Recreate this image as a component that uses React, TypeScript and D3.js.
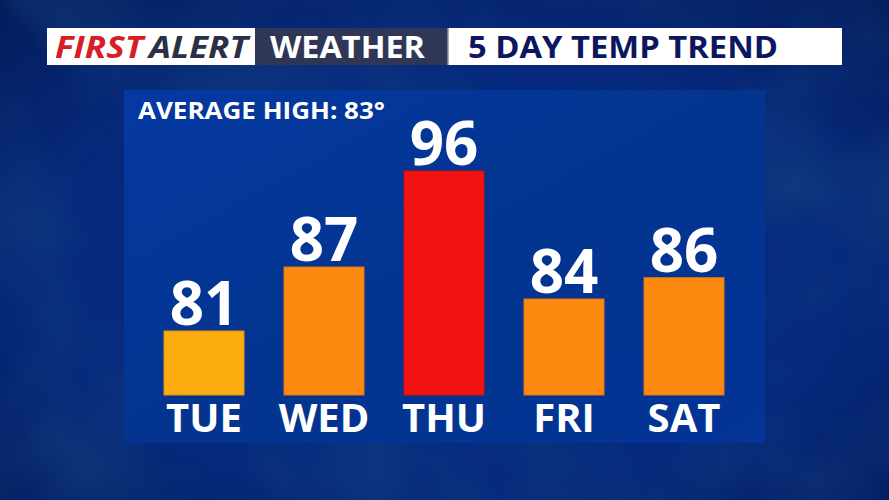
import React from "react";
import * as d3 from "d3";

const days = ["TUE", "WED", "THU", "FRI", "SAT"];
const highs = [81, 87, 96, 84, 86];
const barColors = ["#fdac10", "#fc8a10", "#f41313", "#fc8a10", "#fc8a10"];
const barStrokes = ["#e58f0c", "#e2760c", "#d20f0f", "#e2760c", "#e2760c"];
const averageHigh = 83;
const yDomain = [75, 96];

const W = 889;
const H = 500;

export default function App() {
  const panel = { x: 124, y: 90, w: 641, h: 353 };
  const x = d3
    .scaleBand<string>()
    .domain(days)
    .range([144, 744])
    .paddingInner(1 / 3)
    .paddingOuter(1 / 6);
  const y = d3.scaleLinear().domain(yDomain).range([395, 171]);

  const font = "'Open Sans', 'DejaVu Sans', sans-serif";

  return (
    <svg
      width={W}
      height={H}
      style={{ position: "absolute", left: 0, top: 0, display: "block" }}
    >
      <defs>
        <radialGradient id="bg" cx="50%" cy="55%" r="75%">
          <stop offset="0%" stopColor="#072c86" />
          <stop offset="60%" stopColor="#06297c" />
          <stop offset="100%" stopColor="#041c5a" />
        </radialGradient>
        <linearGradient id="panel" x1="0" y1="0" x2="1" y2="1">
          <stop offset="0%" stopColor="#0539a2" />
          <stop offset="50%" stopColor="#03348f" />
          <stop offset="100%" stopColor="#033496" />
        </linearGradient>
        <filter id="clouds" x="0" y="0" width="100%" height="100%">
          <feTurbulence type="fractalNoise" baseFrequency="0.007" numOctaves={3} seed={7} />
          <feColorMatrix
            type="matrix"
            values="0 0 0 0 0.01  0 0 0 0 0.06  0 0 0 0 0.22  0 0 0 1.2 -0.45"
          />
        </filter>
      </defs>
      <rect x={0} y={0} width={W} height={H} fill="url(#bg)" />
      <rect x={0} y={0} width={W} height={H} filter="url(#clouds)" opacity={0.8} />

      {/* Header */}
      <rect x={47} y={28} width={208} height={37} fill="#ffffff" />
      <rect x={255} y={28} width={193} height={37} fill="#2e3755" />
      <rect x={448} y={28} width={394} height={37} fill="#ffffff" />
      <line x1={448} y1={28} x2={448} y2={65} stroke="#8a90a8" strokeWidth={1.5} />
      <text
        x={55}
        y={58}
        fontFamily={font}
        fontWeight={700}
        fontStyle="italic"
        fontSize={31}
        textLength={193}
        lengthAdjust="spacingAndGlyphs"
      >
        <tspan fill="#d71d26">FIRST</tspan>
        <tspan fill="#2b3046" dx={5}>ALERT</tspan>
      </text>
      <text
        x={270}
        y={58}
        fontFamily={font}
        fontWeight={700}
        fontSize={31}
        fill="#ffffff"
        textLength={155}
        lengthAdjust="spacingAndGlyphs"
      >
        WEATHER
      </text>
      <text
        x={468}
        y={58}
        fontFamily={font}
        fontWeight={700}
        fontSize={31}
        fill="#0d1760"
        textLength={310}
        lengthAdjust="spacingAndGlyphs"
      >
        5 DAY TEMP TREND
      </text>

      {/* Panel */}
      <rect x={panel.x} y={panel.y} width={panel.w} height={panel.h} fill="url(#panel)" />
      <text
        x={138}
        y={119}
        fontFamily={font}
        fontWeight={700}
        fontSize={23}
        fill="#ffffff"
        textLength={247}
        lengthAdjust="spacingAndGlyphs"
      >
        {`AVERAGE HIGH: ${averageHigh}°`}
      </text>

      {days.map((d, i) => {
        const bx = x(d) as number;
        const bw = x.bandwidth();
        const top = y(highs[i]);
        return (
          <g key={d}>
            <rect
              x={bx}
              y={top}
              width={bw}
              height={y(yDomain[0]) - top}
              fill={barColors[i]}
              stroke={barStrokes[i]}
              strokeWidth={1}
            />
            <text
              x={bx + bw / 2}
              y={top - 6}
              textAnchor="middle"
              fontFamily={font}
              fontWeight={700}
              fontSize={60}
              fill="#ffffff"
            >
              {highs[i]}
            </text>
            <text
              x={bx + bw / 2}
              y={432}
              textAnchor="middle"
              fontFamily={font}
              fontWeight={700}
              fontSize={40}
              fill="#ffffff"
            >
              {d}
            </text>
          </g>
        );
      })}
    </svg>
  );
}
